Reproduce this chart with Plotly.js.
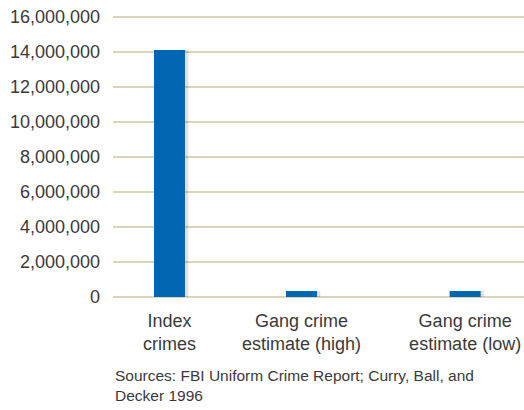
<!DOCTYPE html>
<html><head><meta charset="utf-8">
<script src="https://cdn.plot.ly/plotly-3.0.1.min.js"></script>
<style>html,body{margin:0;padding:0;background:#fff}#c{width:524px;height:410px}</style>
</head><body><div id="c"></div>
<script>
const categories = ["Index<br>crimes", "Gang crime<br>estimate (high)", "Gang crime<br>estimate (low)"];
const slots = [0, 1, 2.24];
const values = [14100000, 340000, 340000];
const yTicks = [0, 2000000, 4000000, 6000000, 8000000, 10000000, 12000000, 14000000, 16000000];
const yTickText = ["0", "2,000,000", "4,000,000", "6,000,000", "8,000,000", "10,000,000", "12,000,000", "14,000,000", "16,000,000"];
const source = "Sources: FBI Uniform Crime Report; Curry, Ball, and<br>Decker 1996";

const font = {family: "Liberation Sans, Arial, sans-serif", size: 18, color: "#3a3a3a"};
Plotly.newPlot("c", [
  {type: "bar", x: slots.map(v => v + 0.025), y: values.map(v => v), width: 0.235,
   marker: {color: "rgba(0,0,0,0.12)"}, hoverinfo: "skip", showlegend: false},
  {type: "bar", x: slots, y: values, width: 0.235,
   marker: {color: "#0066B2"}, showlegend: false}
], {
  width: 524, height: 410, barmode: "overlay",
  margin: {l: 113, r: 0, t: 15, b: 113},
  paper_bgcolor: "#fff", plot_bgcolor: "#fff",
  font: font,
  xaxis: {range: [-0.428, 2.686], tickmode: "array", tickvals: slots, ticktext: categories,
          showgrid: false, zeroline: false, showline: false, ticks: "", ticklabelstandoff: 11,
          tickfont: font},
  yaxis: {range: [0, 16100000], tickmode: "array", tickvals: yTicks, ticktext: yTickText,
          showgrid: true, gridcolor: "#DAD5B8", gridwidth: 1.5, zeroline: true, zerolinecolor: "#DAD5B8",
          zerolinewidth: 1.5, showline: false, ticks: "", ticklabelstandoff: 12, tickfont: font},
  annotations: [{xref: "paper", yref: "paper", x: 0, y: -0.24, xanchor: "left", yanchor: "top",
    align: "left", showarrow: false, text: source,
    font: {family: "Liberation Sans, Arial, sans-serif", size: 15.5, color: "#3a3a3a"}}]
}, {displayModeBar: false, staticPlot: true});
</script></body></html>
